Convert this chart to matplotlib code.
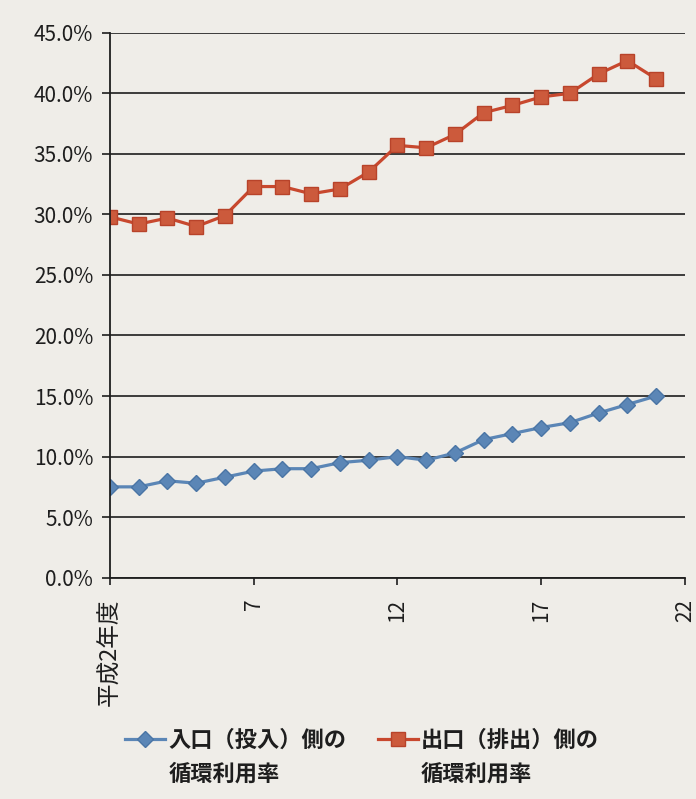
import matplotlib.pyplot as plt
from matplotlib.lines import Line2D
from matplotlib.ticker import FuncFormatter

plt.rcParams['font.family'] = ['Noto Sans CJK JP', 'DejaVu Sans']

# Heisei fiscal years 2..21
years = list(range(2, 22))
input_rate = [7.5, 7.5, 8.0, 7.8, 8.3, 8.8, 9.0, 9.0, 9.5, 9.7,
              10.0, 9.7, 10.3, 11.4, 11.9, 12.4, 12.8, 13.6, 14.3, 15.0]
output_rate = [29.8, 29.2, 29.7, 29.0, 29.9, 32.3, 32.3, 31.7, 32.1, 33.5,
               35.7, 35.5, 36.6, 38.4, 39.0, 39.7, 40.0, 41.6, 42.7, 41.2]
tick_years = [2, 7, 12, 17, 22]
tick_labels = ['平成2年度', '7', '12', '17', '22']
input_label = ['入口（投入）側の', '循環利用率']
output_label = ['出口（排出）側の', '循環利用率']

bg = '#efede8'
ink = '#1e1e1e'
fig = plt.figure(figsize=(6.96, 7.99), dpi=100, facecolor=bg)
ax = fig.add_axes([0.158, 0.277, 0.826, 0.682], facecolor=bg)

l1, = ax.plot(years, input_rate, color='#5b86b6', lw=2.3, marker='D', ms=8,
              markerfacecolor='#5b86b6', markeredgecolor='#4a75a5')
l2, = ax.plot(years, output_rate, color='#c8482e', lw=2.3, marker='s', ms=9.5,
              markerfacecolor='#cc5a3c', markeredgecolor='#b8432a')

ax.set_xlim(2, 22)
ax.set_ylim(0, 45)
ax.set_yticks(range(0, 46, 5))
ax.yaxis.set_major_formatter(FuncFormatter(lambda v, p: f'{v:.1f}%'))
ax.set_xticks(tick_years)
ax.set_xticklabels(tick_labels, rotation=90, ha='center', va='top')
ax.tick_params(axis='y', labelsize=15, direction='out', length=6, width=1.2,
               colors=ink, pad=6)
ax.tick_params(axis='x', labelsize=15, direction='out', length=5, width=1.2,
               colors=ink, pad=10)
ax.get_xticklabels()[0].set_fontsize(17)
ax.grid(axis='y', color=ink, lw=1.2)
ax.set_axisbelow(True)
for s in ['top', 'right']:
    ax.spines[s].set_visible(False)
for s in ['left', 'bottom']:
    ax.spines[s].set_color(ink)
    ax.spines[s].set_linewidth(1.3)

blank = Line2D([], [], lw=0)
fig.legend([l1, blank, l2, blank],
           [input_label[0], input_label[1], output_label[0], output_label[1]],
           ncol=2, frameon=False, loc='upper left', bbox_to_anchor=(0.18, 0.088),
           prop={'size': 16, 'weight': 'bold'}, labelcolor=ink,
           handlelength=1.8, columnspacing=1.4, handletextpad=0.15,
           labelspacing=0.48, borderaxespad=0, borderpad=0)

fig.savefig('out.png', dpi=100, facecolor=bg)
